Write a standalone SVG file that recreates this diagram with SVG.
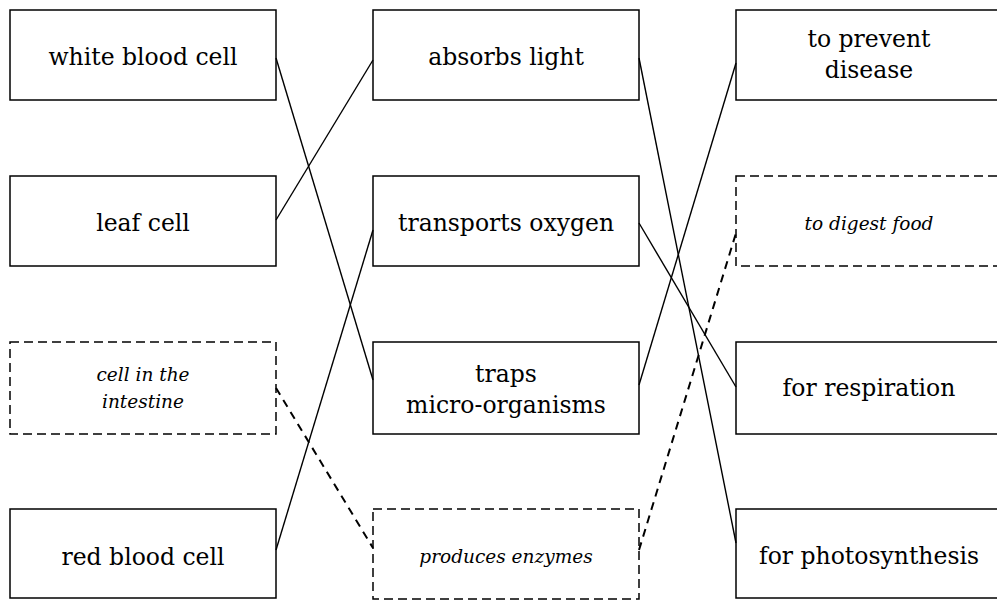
<svg xmlns="http://www.w3.org/2000/svg" width="997" height="601" viewBox="0 0 997 601">
<style>
  .box { fill: #ffffff; stroke: #000000; stroke-width: 1.5; }
  .dbox { fill: #ffffff; stroke: #000000; stroke-width: 1.5; stroke-dasharray: 9 5; }
  .t { font-family: "DejaVu Serif", "Liberation Serif", serif; font-size: 23.5px; fill: #000000; text-anchor: middle; }
  .ti { font-family: "DejaVu Serif", "Liberation Serif", serif; font-size: 18.5px; font-style: italic; fill: #000000; text-anchor: middle; }
  .ln { stroke: #000000; stroke-width: 1.4; fill: none; }
  .dln { stroke: #000000; stroke-width: 2; fill: none; stroke-dasharray: 8 6; }
</style>
<rect x="0" y="0" width="997" height="601" fill="#ffffff"/>
<g id="n-white-blood-cell"><rect class="box" x="10" y="10" width="266" height="90"/><text class="t" x="143" y="65">white blood cell</text></g>
<g id="n-leaf-cell"><rect class="box" x="10" y="176" width="266" height="90"/><text class="t" x="143" y="231">leaf cell</text></g>
<g id="n-cell-intestine"><rect class="dbox" x="10" y="342" width="266" height="92"/><text class="ti" x="143" y="381">cell in the</text><text class="ti" x="143" y="408">intestine</text></g>
<g id="n-red-blood-cell"><rect class="box" x="10" y="509" width="266" height="89"/><text class="t" x="143" y="565">red blood cell</text></g>
<g id="n-absorbs-light"><rect class="box" x="373" y="10" width="266" height="90"/><text class="t" x="506" y="65">absorbs light</text></g>
<g id="n-transports-oxygen"><rect class="box" x="373" y="176" width="266" height="90"/><text class="t" x="506" y="231">transports oxygen</text></g>
<g id="n-traps"><rect class="box" x="373" y="342" width="266" height="92"/><text class="t" x="506" y="382">traps</text><text class="t" x="506" y="413">micro-organisms</text></g>
<g id="n-produces-enzymes"><rect class="dbox" x="373" y="509" width="266" height="90"/><text class="ti" x="506" y="563">produces enzymes</text></g>
<g id="n-prevent-disease"><rect class="box" x="736" y="10" width="270" height="90"/><text class="t" x="869" y="47">to prevent</text><text class="t" x="869" y="78">disease</text></g>
<g id="n-digest-food"><rect class="dbox" x="736" y="176" width="270" height="90"/><text class="ti" x="869" y="230">to digest food</text></g>
<g id="n-respiration"><rect class="box" x="736" y="342" width="270" height="92"/><text class="t" x="869" y="396">for respiration</text></g>
<g id="n-photosynthesis"><rect class="box" x="736" y="509" width="270" height="89"/><text class="t" x="869" y="564">for photosynthesis</text></g>
<g id="connectors">
  <line class="ln" x1="276" y1="58" x2="373" y2="380"/>
  <line class="ln" x1="276" y1="220" x2="373" y2="60"/>
  <line class="ln" x1="373" y1="230" x2="276" y2="550"/>
  <line class="dln" x1="276" y1="388" x2="373" y2="548"/>
  <line class="ln" x1="639" y1="58" x2="736" y2="543"/>
  <line class="ln" x1="639" y1="385" x2="736" y2="63"/>
  <line class="ln" x1="639" y1="223" x2="736" y2="387"/>
  <line class="dln" x1="639" y1="550" x2="736" y2="233"/>
</g>
</svg>
